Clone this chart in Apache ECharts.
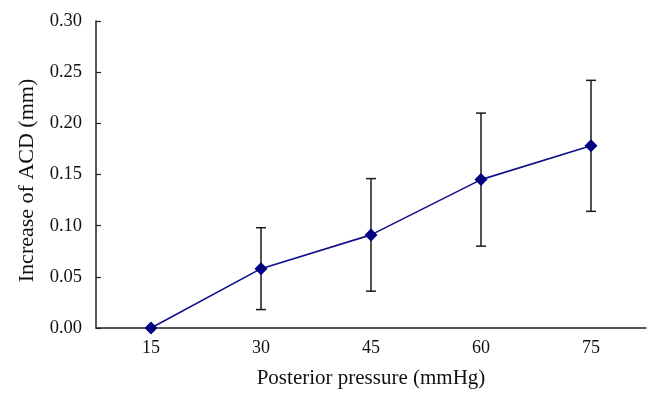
<!DOCTYPE html>
<html>
<head>
<meta charset="utf-8">
<script src="https://cdn.jsdelivr.net/npm/echarts@6/dist/echarts.min.js"></script>
<style>html,body{margin:0;padding:0;background:#fff;}#c{width:661px;height:406px;}</style>
</head>
<body>
<div id="c"></div>
<script>
var categories = ['15', '30', '45', '60', '75'];
var meanValues = [0.000, 0.058, 0.091, 0.145, 0.178];
var upperValues = [0.000, 0.098, 0.146, 0.210, 0.242];
var lowerValues = [0.000, 0.018, 0.036, 0.080, 0.114];

var errData = categories.map(function (c, i) { return [i, lowerValues[i], upperValues[i]]; });
var font = 'Liberation Serif';
var chart = echarts.init(document.getElementById('c'));
chart.setOption({
  animation: false,
  backgroundColor: '#fff',
  grid: { left: 96, right: 15, top: 21, bottom: 78 },
  xAxis: {
    type: 'category',
    data: categories,
    boundaryGap: true,
    name: 'Posterior pressure (mmHg)',
    nameLocation: 'middle',
    nameGap: 40,
    nameTextStyle: { fontFamily: font, fontSize: 21, color: '#111' },
    axisLine: { lineStyle: { color: '#222', width: 1.5 } },
    axisTick: { inside: true, length: 7, lineStyle: { color: '#222', width: 1.2 } },
    axisLabel: { fontFamily: font, fontSize: 18, color: '#111', margin: 11 },
    splitLine: { show: false }
  },
  yAxis: {
    type: 'value',
    min: 0, max: 0.30, interval: 0.05,
    name: 'Increase of ACD (mm)',
    nameLocation: 'middle',
    nameGap: 58,
    nameTextStyle: { fontFamily: font, fontSize: 22, color: '#111', padding: [0, 12, 0, 0] },
    axisLine: { show: true, lineStyle: { color: '#222', width: 1.5 } },
    axisTick: { show: true, inside: true, length: 5, lineStyle: { color: '#222', width: 1.2 } },
    axisLabel: { fontFamily: font, fontSize: 18.5, color: '#111', margin: 14,
      formatter: function (v) { return v.toFixed(2); } },
    splitLine: { show: false }
  },
  series: [
    {
      type: 'custom',
      data: errData,
      z: 1,
      renderItem: function (params, api) {
        var x = api.value(0);
        var lo = api.coord([x, api.value(1)]);
        var hi = api.coord([x, api.value(2)]);
        var w = 5;
        var st = { stroke: '#1a1a1a', lineWidth: 1.5 };
        return {
          type: 'group',
          children: [
            { type: 'line', shape: { x1: hi[0], y1: hi[1], x2: lo[0], y2: lo[1] }, style: st },
            { type: 'line', shape: { x1: hi[0] - w, y1: hi[1], x2: hi[0] + w, y2: hi[1] }, style: st },
            { type: 'line', shape: { x1: lo[0] - w, y1: lo[1], x2: lo[0] + w, y2: lo[1] }, style: st }
          ]
        };
      }
    },
    {
      type: 'line',
      data: meanValues,
      z: 3,
      symbol: 'diamond',
      symbolSize: 13,
      lineStyle: { color: '#10108a', width: 1.6 },
      itemStyle: { color: '#00007f' }
    }
  ]
});
</script>
</body>
</html>
